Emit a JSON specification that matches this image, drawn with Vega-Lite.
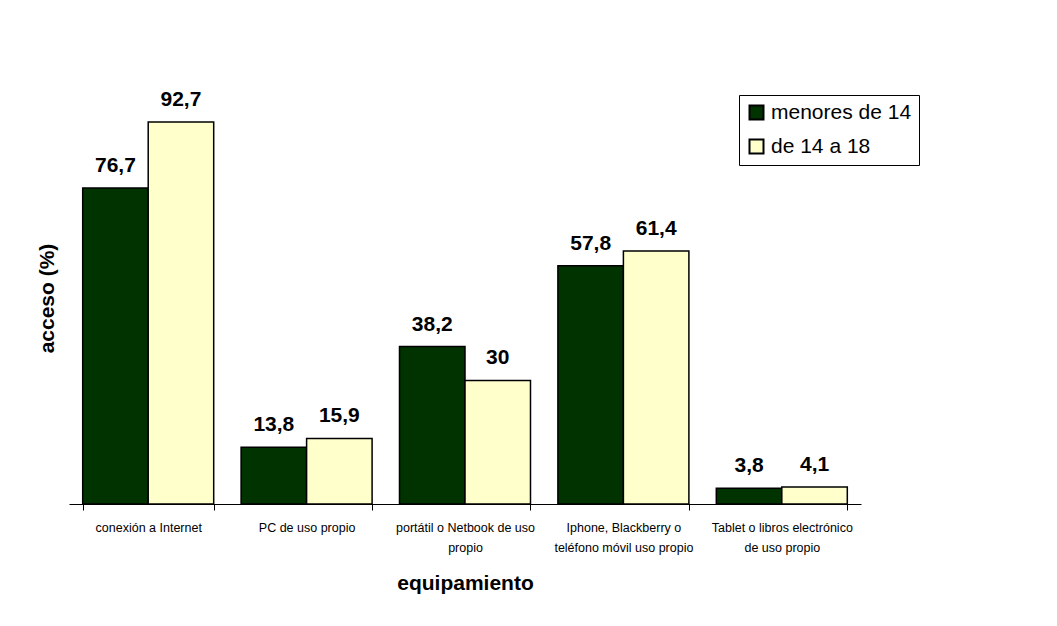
{
  "$schema": "https://vega.github.io/schema/vega-lite/v6.json",
  "autosize": {"type": "none"},
  "width": 792,
  "height": 412,
  "padding": {"left": 69, "top": 92, "right": 196, "bottom": 122},
  "background": "white",
  "config": {
    "view": {"stroke": null},
    "font": "Liberation Sans",
    "locale": {"number": {"decimal": ",", "thousands": ".", "grouping": [3], "currency": ["", " €"]}}
  },
  "data": {
    "values": [
      {"equipamiento": "conexión a Internet", "grupo": "menores de 14", "acceso": 76.7},
      {"equipamiento": "conexión a Internet", "grupo": "de 14 a 18", "acceso": 92.7},
      {"equipamiento": "PC de uso propio", "grupo": "menores de 14", "acceso": 13.8},
      {"equipamiento": "PC de uso propio", "grupo": "de 14 a 18", "acceso": 15.9},
      {"equipamiento": "portátil o Netbook de uso|propio", "grupo": "menores de 14", "acceso": 38.2},
      {"equipamiento": "portátil o Netbook de uso|propio", "grupo": "de 14 a 18", "acceso": 30},
      {"equipamiento": "Iphone, Blackberry o|teléfono móvil uso propio", "grupo": "menores de 14", "acceso": 57.8},
      {"equipamiento": "Iphone, Blackberry o|teléfono móvil uso propio", "grupo": "de 14 a 18", "acceso": 61.4},
      {"equipamiento": "Tablet o libros electrónico|de uso propio", "grupo": "menores de 14", "acceso": 3.8},
      {"equipamiento": "Tablet o libros electrónico|de uso propio", "grupo": "de 14 a 18", "acceso": 4.1}
    ]
  },
  "encoding": {
    "x": {
      "field": "equipamiento",
      "type": "nominal",
      "sort": null,
      "scale": {"paddingInner": 0.173, "paddingOuter": 0.0865},
      "axis": {
        "title": "equipamiento",
        "titleFont": "Liberation Sans",
        "titleFontSize": 21,
        "titleFontWeight": "bold",
        "titleColor": "black",
        "titlePadding": 19,
        "labelExpr": "datum.value ? split(datum.value, '|') : ''",
        "labelFont": "Liberation Sans",
        "labelFontSize": 12.5,
        "labelColor": "black",
        "labelAngle": 0,
        "labelLineHeight": 20,
        "labelPadding": 11,
        "tickBand": "extent",
        "tickSize": 6,
        "tickColor": "black",
        "domainColor": "black",
        "domainWidth": 1,
        "grid": false
      }
    },
    "xOffset": {"field": "grupo", "type": "nominal", "sort": ["menores de 14", "de 14 a 18"]},
    "y": {
      "field": "acceso",
      "type": "quantitative",
      "scale": {"domain": [0, 100], "nice": false},
      "axis": {
        "title": "acceso (%)",
        "titleFont": "Liberation Sans",
        "titleFontSize": 21,
        "titleFontWeight": "bold",
        "titleColor": "black",
        "titlePadding": 12,
        "labels": false,
        "ticks": false,
        "domain": false,
        "grid": false
      }
    }
  },
  "layer": [
    {
      "mark": {"type": "bar", "stroke": "black", "strokeWidth": 1.5},
      "encoding": {
        "color": {
          "field": "grupo",
          "type": "nominal",
          "scale": {"domain": ["menores de 14", "de 14 a 18"], "range": ["#003300", "#FFFFCC"]},
          "legend": {
            "title": null,
            "orient": "none",
            "legendX": 670,
            "legendY": 3,
            "strokeColor": "black",
            "fillColor": "white",
            "padding": 7,
            "symbolType": "square",
            "symbolSize": 196,
            "symbolStrokeColor": "black",
            "symbolStrokeWidth": 2,
            "labelFont": "Liberation Sans",
            "labelFontSize": 21,
            "labelColor": "black",
            "labelOffset": 4,
            "rowPadding": 11,
            "labelLimit": 300
          }
        }
      }
    },
    {
      "mark": {"type": "text", "baseline": "alphabetic", "dy": -16, "fontSize": 21, "fontWeight": "bold", "font": "Liberation Sans", "color": "black"},
      "encoding": {
        "text": {"field": "acceso", "type": "quantitative", "format": ".1~f"}
      }
    }
  ]
}
